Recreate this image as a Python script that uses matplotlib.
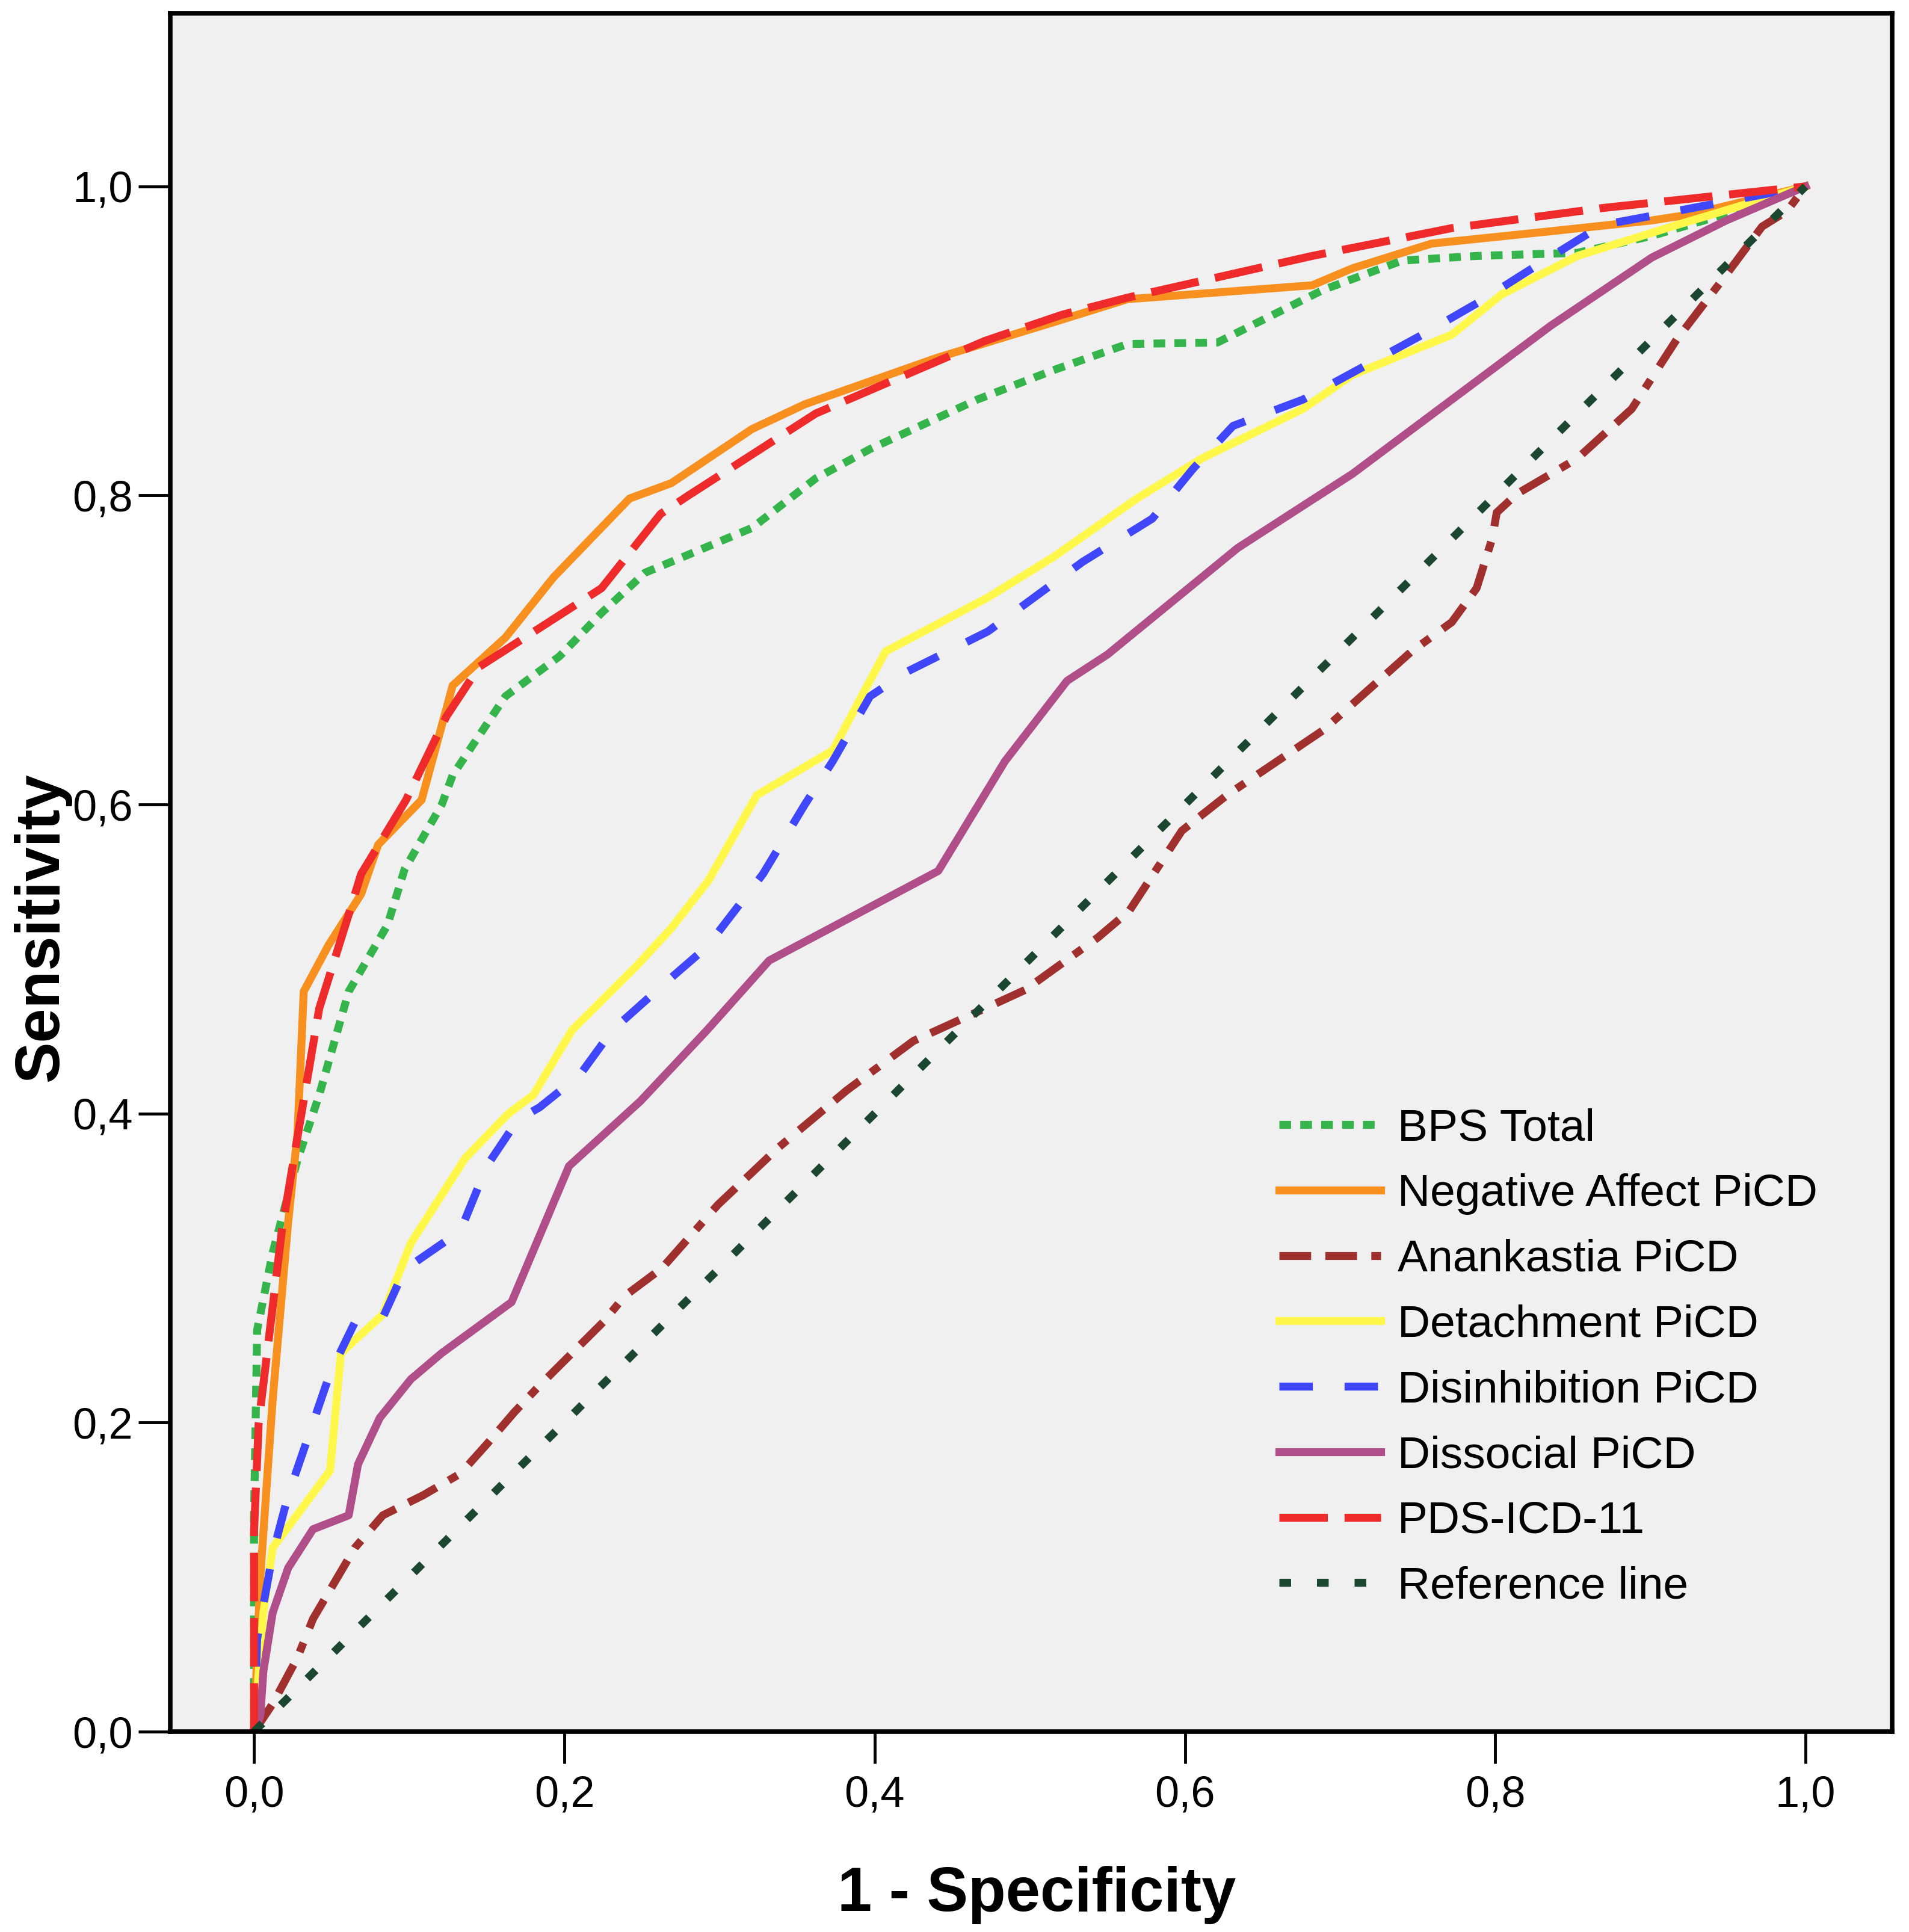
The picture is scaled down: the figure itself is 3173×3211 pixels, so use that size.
import matplotlib
matplotlib.use("Agg")
import matplotlib.pyplot as plt

plt.rcParams['font.family'] = ['Liberation Sans', 'DejaVu Sans']
plt.rcParams['lines.scale_dashes'] = False

# ---- data ----
bps_x = [0, 0, 0.002, 0.012, 0.028, 0.042, 0.061, 0.086, 0.097, 0.121, 0.128, 0.162, 0.197, 0.224,
         0.252, 0.276, 0.321, 0.362, 0.397, 0.466, 0.515, 0.563, 0.621, 0.643, 0.689, 0.74, 0.788,
         0.853, 0.901, 0.965, 1.0]
bps_y = [0, 0.14, 0.26, 0.31, 0.37, 0.412, 0.479, 0.522, 0.558, 0.60, 0.619, 0.67, 0.696, 0.724,
         0.75, 0.76, 0.779, 0.811, 0.83, 0.862, 0.881, 0.898, 0.899, 0.91, 0.933, 0.952, 0.955,
         0.957, 0.968, 0.987, 1.0]

neg_x = [0, 0.004, 0.012, 0.022, 0.028, 0.032, 0.048, 0.069, 0.08, 0.108, 0.128, 0.162, 0.193,
         0.242, 0.269, 0.321, 0.355, 0.44, 0.515, 0.563, 0.682, 0.708, 0.759, 0.836, 0.901, 0.927, 1.0]
neg_y = [0, 0.10, 0.215, 0.33, 0.387, 0.479, 0.509, 0.542, 0.574, 0.603, 0.677, 0.708, 0.747,
         0.798, 0.808, 0.843, 0.859, 0.889, 0.912, 0.927, 0.936, 0.947, 0.963, 0.971, 0.978, 0.982, 1.0]

ana_x = [0, 0.012, 0.028, 0.038, 0.065, 0.083, 0.109, 0.133, 0.15, 0.168, 0.184, 0.205, 0.225,
         0.239, 0.263, 0.299, 0.338, 0.382, 0.425, 0.471, 0.497, 0.544, 0.564, 0.598, 0.627, 0.689,
         0.746, 0.772, 0.788, 0.798, 0.801, 0.814, 0.853, 0.888, 0.917, 0.946, 0.972, 0.988, 1.0]
ana_y = [0, 0.018, 0.048, 0.073, 0.119, 0.14, 0.153, 0.167, 0.186, 0.207, 0.224, 0.245, 0.265,
         0.282, 0.30, 0.341, 0.378, 0.415, 0.447, 0.468, 0.48, 0.514, 0.531, 0.583, 0.606, 0.648,
         0.699, 0.718, 0.74, 0.772, 0.789, 0.801, 0.824, 0.856, 0.901, 0.939, 0.974, 0.984, 1.0]

det_x = [0, 0.006, 0.012, 0.049, 0.056, 0.083, 0.101, 0.136, 0.164, 0.18, 0.205, 0.247, 0.269,
         0.293, 0.324, 0.373, 0.407, 0.473, 0.515, 0.569, 0.611, 0.676, 0.708, 0.772, 0.804, 0.853,
         0.917, 1.0]
det_y = [0, 0.077, 0.119, 0.169, 0.245, 0.27, 0.316, 0.371, 0.40, 0.412, 0.454, 0.496, 0.52,
         0.551, 0.606, 0.635, 0.699, 0.734, 0.76, 0.798, 0.824, 0.856, 0.878, 0.904, 0.93, 0.955,
         0.975, 1.0]

dis_x = [0, 0.002, 0.012, 0.022, 0.036, 0.049, 0.065, 0.083, 0.097, 0.133, 0.15, 0.17, 0.184,
         0.21, 0.231, 0.269, 0.292, 0.328, 0.355, 0.373, 0.397, 0.421, 0.473, 0.534, 0.579, 0.605,
         0.631, 0.676, 0.753, 0.791, 0.827, 0.869, 0.901, 1.0]
dis_y = [0, 0.06, 0.115, 0.153, 0.194, 0.232, 0.265, 0.268, 0.299, 0.324, 0.366, 0.396, 0.404,
         0.425, 0.454, 0.488, 0.508, 0.555, 0.60, 0.628, 0.67, 0.686, 0.712, 0.757, 0.785, 0.817,
         0.845, 0.862, 0.904, 0.926, 0.949, 0.975, 0.981, 1.0]

soc_x = [0, 0.004, 0.006, 0.012, 0.022, 0.038, 0.061, 0.067, 0.081, 0.101, 0.121, 0.166, 0.203,
         0.249, 0.292, 0.332, 0.441, 0.484, 0.524, 0.55, 0.634, 0.708, 0.772, 0.836, 0.901, 0.949, 1.0]
soc_y = [0, 0.01, 0.039, 0.077, 0.106, 0.131, 0.14, 0.173, 0.203, 0.228, 0.245, 0.278, 0.366,
         0.408, 0.454, 0.499, 0.557, 0.628, 0.68, 0.697, 0.766, 0.814, 0.862, 0.91, 0.954, 0.978, 1.0]

pds_x = [0, 0, 0.003, 0.018, 0.026, 0.042, 0.062, 0.069, 0.098, 0.124, 0.145, 0.224, 0.262, 0.28,
         0.362, 0.471, 0.521, 0.563, 0.682, 0.772, 0.869, 1.0]
pds_y = [0, 0.13, 0.2, 0.325, 0.373, 0.468, 0.532, 0.555, 0.603, 0.657, 0.689, 0.74, 0.788, 0.80,
         0.853, 0.9, 0.917, 0.928, 0.955, 0.973, 0.986, 1.0]

ref_x = [0, 1]
ref_y = [0, 1]

x_ticks = [0.0, 0.2, 0.4, 0.6, 0.8, 1.0]
x_tick_labels = ["0,0", "0,2", "0,4", "0,6", "0,8", "1,0"]
y_ticks = [0.0, 0.2, 0.4, 0.6, 0.8, 1.0]
y_tick_labels = ["0,0", "0,2", "0,4", "0,6", "0,8", "1,0"]

series = [
    ("BPS Total", bps_x, bps_y, "#34b44a", (0, (14, 11))),
    ("Negative Affect PiCD", neg_x, neg_y, "#f7901e", "-"),
    ("Anankastia PiCD", ana_x, ana_y, "#a0302e", (0, (38, 17, 38, 17, 12, 19))),
    ("Detachment PiCD", det_x, det_y, "#fff84a", "-"),
    ("Disinhibition PiCD", dis_x, dis_y, "#4047fb", (0, (40, 38))),
    ("Dissocial PiCD", soc_x, soc_y, "#b04e8a", "-"),
    ("PDS-ICD-11", pds_x, pds_y, "#ef2a2a", (0, (58, 20))),
    ("Reference line", ref_x, ref_y, "#1b4630", (0, (14, 31))),
]

fig = plt.figure(figsize=(31.73, 32.11), dpi=100)
ax = fig.add_axes([0.0892, 0.1037, 0.9021, 0.8894])
ax.set_facecolor("#f0f0f0")

for label, xs, ys, col, ls in series:
    ax.plot(xs, ys, color=col, linestyle=ls, linewidth=9.5, label=label,
            dash_capstyle='butt', solid_joinstyle='round')

ax.set_xlim(-0.054, 1.056)
ax.set_ylim(0, 1.112)
ax.set_xticks(x_ticks)
ax.set_xticklabels(x_tick_labels)
ax.set_yticks(y_ticks)
ax.set_yticklabels(y_tick_labels)
ax.tick_params(axis='both', direction='out', length=38, width=3.5, labelsize=52, colors='black')
ax.tick_params(axis='x', pad=14)
ax.tick_params(axis='y', pad=7)
for sp in ax.spines.values():
    sp.set_linewidth(5.5)
    sp.set_color('black')

fig.text(0.022, 0.520, "Sensitivity", rotation=90, ha='center', va='center',
         fontsize=74, fontweight='bold')
fig.text(0.543, 0.019, "1 - Specificity", ha='center', va='center',
         fontsize=74, fontweight='bold')

ax.legend(loc='upper left', bbox_to_anchor=(0.644, 0.363), frameon=False,
          fontsize=54, handlelength=2.25, handletextpad=0.37, labelspacing=0.53,
          borderpad=0, borderaxespad=0)

fig.savefig("out.png", dpi=100)
